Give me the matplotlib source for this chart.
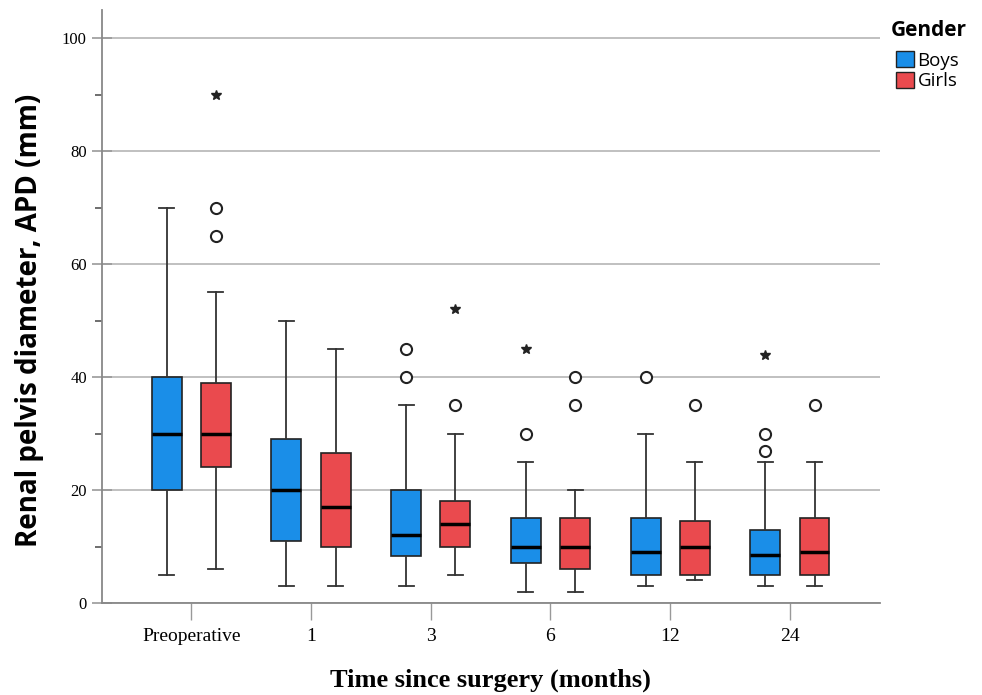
import matplotlib
matplotlib.use("Agg")
import matplotlib.pyplot as plt
from matplotlib.patches import Patch
import numpy as np

categories = ["Preoperative", "1", "3", "6", "12", "24"]
groups = ["Boys", "Girls"]
colors = {"Boys": "#1a8ee8", "Girls": "#ea4a4e"}

# five-number summaries: (whislo, q1, med, q3, whishi)
boys_stats = [
    (5, 20, 30, 40, 70),
    (3, 11, 20, 29, 50),
    (3, 8.3, 12, 20, 35),
    (2, 7, 10, 15, 25),
    (3, 5, 9, 15, 30),
    (3, 5, 8.5, 13, 25),
]
girls_stats = [
    (6, 24, 30, 39, 55),
    (3, 10, 17, 26.5, 45),
    (5, 10, 14, 18, 30),
    (2, 6, 10, 15, 20),
    (4, 5, 10, 14.5, 25),
    (3, 5, 9, 15, 25),
]
# outliers (circles) and extremes (stars)
boys_outliers = [[], [], [40, 45], [30], [40], [27, 30]]
girls_outliers = [[65, 70], [], [35], [35, 40], [35], [35]]
boys_extremes = [[], [], [], [45], [], [44]]
girls_extremes = [[90], [], [52], [], [], []]

fig = plt.figure(figsize=(9.82, 6.95), dpi=100)
ax = fig.add_axes([0.1039, 0.1324, 0.792, 0.853])

offset = 0.205
width = 0.25
for gi, (stats, outl, extr, g) in enumerate([
        (boys_stats, boys_outliers, boys_extremes, "Boys"),
        (girls_stats, girls_outliers, girls_extremes, "Girls")]):
    sgn = -1 if gi == 0 else 1
    positions = np.arange(len(categories)) + sgn * offset
    bstats = []
    for (lo, q1, med, q3, hi), fl in zip(stats, outl):
        bstats.append(dict(whislo=lo, q1=q1, med=med, q3=q3, whishi=hi, fliers=fl))
    ax.bxp(bstats, positions=positions, widths=width, patch_artist=True,
           showfliers=True, capwidths=width * 0.5,
           boxprops=dict(facecolor=colors[g], edgecolor="#222222", linewidth=1.2),
           medianprops=dict(color="black", linewidth=2.5),
           whiskerprops=dict(color="#333333", linewidth=1.3),
           capprops=dict(color="#333333", linewidth=1.3),
           flierprops=dict(marker="o", markerfacecolor="white", markeredgecolor="#222222",
                           markersize=8, markeredgewidth=1.5, linestyle="none"))
    for p, ex in zip(positions, extr):
        if ex:
            ax.plot([p] * len(ex), ex, linestyle="none", marker="*", color="#222222",
                    markersize=7)

ax.set_xlim(-0.745, 5.75)
ax.set_ylim(0, 105)
ax.set_xticks(np.arange(len(categories)))
ax.set_xticklabels(categories, fontfamily="Liberation Serif", fontsize=14)
ax.set_yticks([0, 20, 40, 60, 80, 100])
ax.set_yticks([10, 30, 50, 70, 90], minor=True)
ax.set_yticklabels(["0", "20", "40", "60", "80", "100"], fontfamily="Liberation Serif",
                   fontsize=12)
ax.tick_params(axis="y", which="major", direction="inout", length=14, width=1.2,
               color="#999999", pad=4)
ax.tick_params(axis="y", which="minor", direction="out", length=5, width=1.2,
               color="#555555")
ax.tick_params(axis="x", which="major", direction="out", length=12, width=1.0,
               color="#999999", pad=6)
ax.yaxis.grid(True, which="major", color="#bbbbbb", linewidth=1.3)
ax.set_axisbelow(True)
for s in ["top", "right"]:
    ax.spines[s].set_visible(False)
for s in ["left", "bottom"]:
    ax.spines[s].set_color("#888888")
    ax.spines[s].set_linewidth(1.3)

ax.set_ylabel("Renal pelvis diameter, APD (mm)", fontfamily="Open Sans",
              fontweight="bold", fontsize=20)
ax.yaxis.set_label_coords(-0.0745, 0.477)
ax.set_xlabel("Time since surgery (months)", fontfamily="Liberation Serif",
              fontweight="bold", fontsize=19, labelpad=17)

fig.text(891 / 982, 1 - 20 / 695, "Gender", fontfamily="Open Sans", fontweight="bold",
         fontsize=15, ha="left", va="top")
handles = [Patch(facecolor=colors[g], edgecolor="#222222", label=g) for g in groups]
leg = fig.legend(handles=handles, loc="upper left",
                 bbox_to_anchor=(896 / 982, 1 - 51 / 695), frameon=False,
                 prop=dict(family="Open Sans", size=13.5),
                 handlelength=0.95, handleheight=0.95, handletextpad=0.2,
                 labelspacing=0.12, borderaxespad=0, borderpad=0)

fig.savefig("out.png", dpi=100)
